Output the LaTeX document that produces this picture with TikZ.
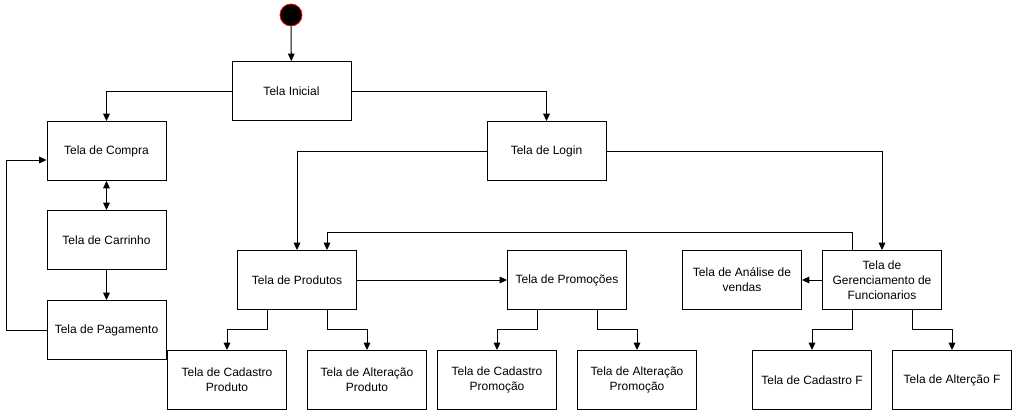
\documentclass[tikz,border=0pt]{standalone}
\usepackage{fontspec}
\setmainfont{Liberation Sans}
\usetikzlibrary{arrows.meta,calc}
\begin{document}
\begin{tikzpicture}[x=0.75pt,y=-0.75pt,
  box/.style={draw,line width=0.75pt,minimum width=89.25pt,minimum height=44.25pt,align=center,inner sep=2pt,font=\fontsize{9}{11.25}\selectfont},
  conn/.style={line width=0.75pt,-{Triangle[length=5.5pt,width=5pt]}},
  bconn/.style={line width=0.75pt,{Triangle[length=5.5pt,width=5pt]}-{Triangle[length=5.5pt,width=5pt]}}]
\useasboundingbox (0,0) rectangle (1014,411);
\node[circle,fill=black,draw=red,line width=0.6pt,minimum size=16.5pt,inner sep=0pt] (start) at (291,15) {};
\node[box] (ini) at (291.5,91) {Tela Inicial};
\node[box] (compra) at (106.5,151) {Tela de Compra};
\node[box] (login) at (546.5,151) {Tela de Login};
\node[box] (carr) at (106.5,240) {Tela de Carrinho};
\node[box] (pag) at (106.5,330) {Tela de Pagamento};
\node[box] (prod) at (297,280) {Tela de Produtos};
\node[box] (promo) at (567,280) {Tela de Promoções};
\node[box] (anal) at (742,280) {Tela de Análise de\\vendas};
\node[box] (ger) at (882,280) {Tela de\\Gerenciamento de\\Funcionarios};
\node[box] (cadp) at (227,380) {Tela de Cadastro\\Produto};
\node[box] (altp) at (367,380) {Tela de Alteração\\Produto};
\node[box] (cadpr) at (497,380) {Tela de Cadastro\\Promoção};
\node[box] (altpr) at (637,380) {Tela de Alteração\\Promoção};
\node[box] (cadf) at (812,380) {Tela de Cadastro F};
\node[box] (altf) at (952,380) {Tela de Alterção F};
\draw[conn] (start) -- (ini);
\draw[conn] (ini.west) -| (compra.north);
\draw[conn] (ini.east) -| (login.north);
\draw[bconn] (compra) -- (carr);
\draw[conn] (carr) -- (pag);
\draw[conn] (pag.west) -- ++(-40,0) |- ($(compra.west)+(0,9)$);
\draw[conn] (login.west) -| (prod.north);
\draw[conn] (login.east) -| (ger.north);
\draw[conn] ($(ger.north)+(-30,0)$) -- ++(0,-18) -| ($(prod.north)+(30,0)$);
\draw[conn] (prod) -- (promo);
\draw[conn] (ger) -- (anal);
\draw[conn] ($(prod.south)+(-30,0)$) -- ++(0,19.5) -| (cadp.north);
\draw[conn] ($(prod.south)+(30,0)$) -- ++(0,19.5) -| (altp.north);
\draw[conn] ($(promo.south)+(-30,0)$) -- ++(0,19.5) -| (cadpr.north);
\draw[conn] ($(promo.south)+(30,0)$) -- ++(0,19.5) -| (altpr.north);
\draw[conn] ($(ger.south)+(-30,0)$) -- ++(0,19.5) -| (cadf.north);
\draw[conn] ($(ger.south)+(30,0)$) -- ++(0,19.5) -| (altf.north);
\end{tikzpicture}
\end{document}
